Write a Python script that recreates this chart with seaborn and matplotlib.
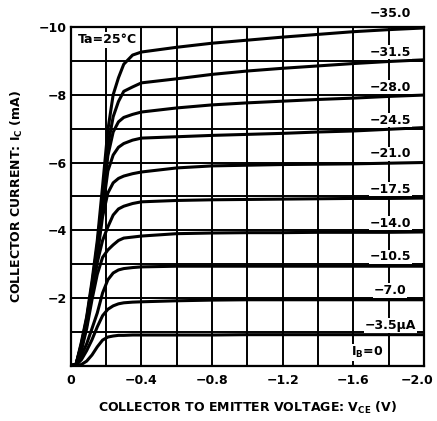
import pandas as pd
import matplotlib.pyplot as plt
import matplotlib.transforms as mtransforms
import seaborn as sns

# -----------------------------
# Data (Ta = 25 C)
# -----------------------------
vce = [0, -0.03, -0.06, -0.09, -0.12, -0.15, -0.18, -0.21, -0.24, -0.27, -0.30, -0.35,
       -0.4, -0.6, -0.8, -1.0, -1.2, -1.4, -1.6, -1.8, -2.0]

ib_values = [-35.0, -31.5, -28.0, -24.5, -21.0, -17.5, -14.0, -10.5, -7.0, -3.5, 0.0]
ib_labels = ["\u221235.0", "\u221231.5", "\u221228.0", "\u221224.5", "\u221221.0",
             "\u221217.5", "\u221214.0", "\u221210.5", "\u22127.0", "\u22123.5\u03bcA",
             "I$_\\mathrm{B}$=0"]

ic_35_0 = [0, -0.05, -0.7, -1.45, -2.5, -3.7, -5.3, -6.96, -8.0, -8.5, -8.9, -9.17,
           -9.26, -9.4, -9.52, -9.61, -9.7, -9.78, -9.86, -9.92, -9.97]
ic_31_5 = [0, -0.05, -0.65, -1.4, -2.4, -3.55, -5.0, -6.5, -7.35, -7.8, -8.1, -8.23,
           -8.35, -8.47, -8.6, -8.7, -8.78, -8.85, -8.92, -8.98, -9.03]
ic_28_0 = [0, -0.05, -0.6, -1.35, -2.35, -3.45, -4.8, -6.2, -6.9, -7.2, -7.33, -7.42,
           -7.49, -7.61, -7.7, -7.76, -7.81, -7.86, -7.9, -7.95, -7.99]
ic_24_5 = [0, -0.05, -0.6, -1.3, -2.3, -3.35, -4.6, -5.75, -6.22, -6.45, -6.56, -6.66,
           -6.72, -6.76, -6.8, -6.83, -6.86, -6.9, -6.93, -6.98, -7.03]
ic_21_0 = [0, -0.05, -0.55, -1.25, -2.2, -3.25, -4.4, -5.1, -5.4, -5.53, -5.6, -5.67,
           -5.72, -5.84, -5.9, -5.92, -5.94, -5.95, -5.96, -5.98, -6.0]
ic_17_5 = [0, -0.05, -0.5, -1.2, -2.1, -3.05, -3.7, -4.1, -4.45, -4.63, -4.71, -4.79,
           -4.84, -4.88, -4.9, -4.91, -4.92, -4.93, -4.94, -4.94, -4.95]
ic_14_0 = [0, -0.04, -0.45, -1.1, -1.95, -2.7, -3.2, -3.42, -3.57, -3.7, -3.77, -3.8,
           -3.83, -3.9, -3.92, -3.93, -3.93, -3.94, -3.94, -3.94, -3.95]
ic_10_5 = [0, -0.03, -0.3, -0.65, -1.1, -1.56, -2.15, -2.54, -2.74, -2.83, -2.87, -2.9,
           -2.92, -2.94, -2.94, -2.94, -2.94, -2.94, -2.94, -2.94, -2.94]
ic_7_0 = [0, -0.02, -0.18, -0.45, -0.77, -1.15, -1.48, -1.67, -1.77, -1.83, -1.86, -1.88,
          -1.89, -1.92, -1.94, -1.95, -1.95, -1.95, -1.95, -1.95, -1.95]
ic_3_5 = [0, 0, -0.04, -0.14, -0.32, -0.56, -0.76, -0.85, -0.88, -0.9, -0.9, -0.91,
          -0.91, -0.91, -0.91, -0.92, -0.92, -0.92, -0.92, -0.92, -0.92]
ic_0 = [0] * len(vce)

curves = [ic_35_0, ic_31_5, ic_28_0, ic_24_5, ic_21_0, ic_17_5,
          ic_14_0, ic_10_5, ic_7_0, ic_3_5, ic_0]

x_ticks = [0, -0.2, -0.4, -0.6, -0.8, -1.0, -1.2, -1.4, -1.6, -1.8, -2.0]
x_ticklabels = ["0", "", "\u22120.4", "", "\u22120.8", "", "\u22121.2", "", "\u22121.6", "", "\u22122.0"]
y_ticks = [0, -1, -2, -3, -4, -5, -6, -7, -8, -9, -10]
y_ticklabels = ["", "", "\u22122", "", "\u22124", "", "\u22126", "", "\u22128", "", "\u221210"]

# long-form table for seaborn
rows = []
for ib, ic in zip(ib_values, curves):
    for v, i in zip(vce, ic):
        rows.append({"Vce": v, "Ic": i, "Ib": ib})
df = pd.DataFrame(rows)

# -----------------------------
# Style
# -----------------------------
sns.set_style("white")
plt.rcParams["font.family"] = ["DejaVu Sans"]
plt.rcParams["font.weight"] = "bold"
plt.rcParams["text.color"] = "black"
plt.rcParams["axes.labelcolor"] = "black"
plt.rcParams["xtick.color"] = "black"
plt.rcParams["ytick.color"] = "black"
plt.rcParams["mathtext.fontset"] = "custom"
plt.rcParams["mathtext.rm"] = "DejaVu Sans:bold"

fig = plt.figure(figsize=(4.37, 4.21), dpi=100)
ax = fig.add_axes([0.162, 0.131, 0.808, 0.805])

sns.lineplot(
    data=df, x="Vce", y="Ic", hue="Ib", units="Ib", estimator=None,
    palette=["black"] * len(ib_values), legend=False, sort=False,
    linewidth=2.2, ax=ax, zorder=3
)

ax.set_xlim(0, -2.0)
ax.set_ylim(0, -10)
ax.set_xticks(x_ticks)
ax.set_xticklabels(x_ticklabels, fontsize=9, fontweight="bold")
ax.set_yticks(y_ticks)
ax.set_yticklabels(y_ticklabels, fontsize=9, fontweight="bold")
ax.tick_params(length=0)
ax.tick_params(axis="x", pad=6)
ax.tick_params(axis="y", pad=3)
ax.grid(True, color="black", linewidth=1.4)
for sp in ax.spines.values():
    sp.set_color("black")
    sp.set_linewidth(1.6)

# pull the last x tick label in a little so it stays on the canvas
last = ax.get_xticklabels()[-1]
last.set_transform(last.get_transform() + mtransforms.ScaledTranslation(-5 / 72, 0, fig.dpi_scale_trans))

ax.set_xlabel("COLLECTOR TO EMITTER VOLTAGE: V$_\\mathrm{CE}$ (V)",
              fontsize=9, fontweight="bold", labelpad=9)
ax.set_ylabel("COLLECTOR CURRENT: I$_\\mathrm{C}$ (mA)",
              fontsize=9, fontweight="bold", labelpad=10)

# -----------------------------
# Curve labels
# -----------------------------
lbl_idx = vce.index(-1.8)
for k, (lab, ic) in enumerate(zip(ib_labels, curves)):
    if k == len(curves) - 1:
        ax.annotate(lab, xy=(-1.68, ic[lbl_idx]), xytext=(0, 4), textcoords="offset points",
                    ha="center", va="bottom", fontsize=9, fontweight="bold",
                    bbox=dict(facecolor="white", edgecolor="none", pad=0.5), zorder=4)
        continue
    dy = 7 if k == 0 else 2
    ax.annotate(lab, xy=(-1.81, ic[lbl_idx]), xytext=(0, dy), textcoords="offset points",
                ha="center", va="bottom", fontsize=9, fontweight="bold",
                bbox=dict(facecolor="white", edgecolor="none", pad=0.5),
                annotation_clip=False, zorder=4)

ax.text(-0.21, -9.62, "Ta=25\u00b0C", ha="center", va="center", fontsize=9,
        fontweight="bold", bbox=dict(facecolor="white", edgecolor="none", pad=1), zorder=4)

plt.savefig("out.png", dpi=100, facecolor="white")
